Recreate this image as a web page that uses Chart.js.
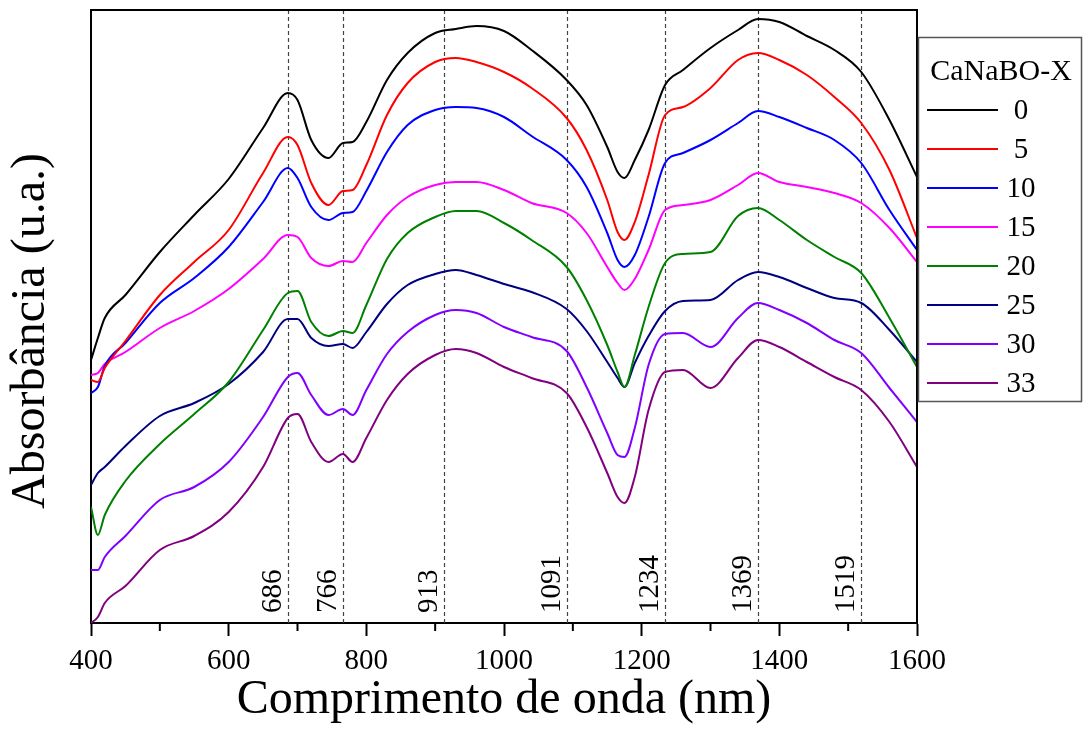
<!DOCTYPE html>
<html><head><meta charset="utf-8">
<script src="https://cdn.jsdelivr.net/npm/chart.js@4.4.1/dist/chart.umd.min.js"></script>
<style>html,body{margin:0;padding:0;background:#fff;}</style>
</head><body>
<canvas id="c" width="1088" height="729"></canvas>
<script>
// ---- data (absorbance, arbitrary units) ----
const wavelengths = [400,410,420,450,500,550,600,650,686,700,720,745,766,780,800,830,860,900,930,960,1000,1040,1091,1120,1150,1165,1175,1190,1210,1234,1260,1300,1340,1369,1400,1440,1480,1519,1560,1600];
const seriesLabels = ['0','5','10','15','20','25','30','33'];
const abs0  = [263,285,305,328,371,408,444,495,530,523,483,465,480,481,501,543,570,590,594,597,592,573,543,518,476,451,445,463,493,538,553,575,593,604,601,587,573,551,503,446];
const abs5  = [243,241,255,282,328,361,393,450,486,478,440,418,432,433,458,508,540,561,565,561,551,535,505,473,423,391,383,401,448,508,516,535,563,570,563,548,526,500,453,385];
const abs10 = [230,236,257,280,320,345,376,421,455,445,416,403,410,411,432,471,498,513,516,515,506,487,463,436,390,363,356,368,406,460,470,483,500,512,506,495,483,460,413,373];
const abs15 = [248,250,259,271,295,312,334,364,388,386,365,357,362,361,380,408,426,438,441,441,433,420,410,390,356,340,333,344,373,413,418,423,438,450,441,436,430,420,395,361];
const abs20 = [116,88,108,142,179,209,241,293,330,332,301,287,292,290,318,364,390,406,412,412,400,383,356,323,278,251,236,268,316,360,369,371,407,415,403,383,366,350,305,256];
const abs25 = [138,150,156,177,207,220,239,271,304,304,285,277,279,275,291,319,338,349,353,348,339,331,314,292,261,245,236,260,287,312,322,323,343,351,346,335,325,320,293,261];
const abs30 = [53,53,66,87,123,136,161,206,246,250,228,208,214,208,233,269,291,308,313,310,296,286,272,236,190,168,166,195,258,289,290,276,305,320,313,300,283,270,235,201];
const abs33 = [0,6,20,37,73,87,111,156,205,209,181,161,169,161,185,223,249,268,274,270,256,245,230,196,150,126,120,146,213,251,253,235,265,283,276,261,246,233,201,156];
const peakLines = [686,766,913,1091,1234,1369,1519];
const legendTitle = 'CaNaBO-X';
const xTitle = 'Comprimento de onda (nm)';
const yTitle = 'Absorbância (u.a.)';

const allSeries = [abs0,abs5,abs10,abs15,abs20,abs25,abs30,abs33];
const colors = ['#000000','#FF0000','#0000FF','#FF00FF','#008000','#000080','#8000FF','#800080'];
const FONT = "'Liberation Serif', 'Times New Roman', serif";

const datasets = allSeries.map((s,i)=>({
  label: seriesLabels[i],
  data: s.map((v,j)=>({x: wavelengths[j], y: v})),
  borderColor: colors[i],
  borderWidth: 2,
  pointRadius: 0,
  fill: false,
  tension: 0.4,
  cubicInterpolationMode: 'monotone'
}));

const decor = {
  id: 'decor',
  beforeDatasetsDraw(chart){
    const {ctx, chartArea:a, scales:{x}} = chart;
    ctx.save();
    ctx.strokeStyle = '#444';
    ctx.lineWidth = 1.2;
    ctx.setLineDash([4,3]);
    peakLines.forEach(p=>{
      const px = Math.round(x.getPixelForValue(p)) + 0.5;
      ctx.beginPath(); ctx.moveTo(px, a.top); ctx.lineTo(px, a.bottom); ctx.stroke();
    });
    ctx.setLineDash([]);
    ctx.fillStyle = '#000';
    ctx.font = "29px " + FONT;
    ctx.textAlign = 'left';
    ctx.textBaseline = 'alphabetic';
    peakLines.forEach(p=>{
      const px = x.getPixelForValue(p);
      ctx.save();
      ctx.translate(px - 7, a.bottom - 10);
      ctx.rotate(-Math.PI/2);
      ctx.fillText(String(p), 0, 0);
      ctx.restore();
    });
    ctx.restore();
  },
  afterDraw(chart){
    const {ctx, chartArea:a, scales:{x}} = chart;
    ctx.save();
    // frame top & right
    ctx.strokeStyle = '#000';
    ctx.lineWidth = 2;
    ctx.beginPath();
    ctx.moveTo(a.left, a.top); ctx.lineTo(a.right, a.top); ctx.lineTo(a.right, a.bottom);
    ctx.stroke();
    // minor ticks
    for (let v = x.min + 100; v < x.max; v += 200) {
      const px = x.getPixelForValue(v);
      ctx.beginPath(); ctx.moveTo(px, a.bottom); ctx.lineTo(px, a.bottom + 8); ctx.stroke();
    }
    // y title
    ctx.fillStyle = '#000';
    ctx.font = "48px " + FONT;
    ctx.textAlign = 'center';
    ctx.textBaseline = 'middle';
    ctx.save();
    ctx.translate(31, 331);
    ctx.rotate(-Math.PI/2);
    ctx.fillText(yTitle, 0, 0);
    ctx.restore();
    // legend
    const lx = 918, ly = 37, lw = 163, lh = 364;
    ctx.fillStyle = '#fff';
    ctx.fillRect(lx, ly, lw, lh);
    ctx.strokeStyle = '#555';
    ctx.lineWidth = 1.5;
    ctx.strokeRect(lx + 0.5, ly + 0.5, lw, lh);
    ctx.fillStyle = '#000';
    ctx.font = "30px " + FONT;
    ctx.textAlign = 'center';
    ctx.fillText(legendTitle, 1001, 72);
    ctx.font = "29px " + FONT;
    chart.data.datasets.forEach((d,i)=>{
      const y = 110 + i*39;
      ctx.strokeStyle = d.borderColor;
      ctx.lineWidth = 2;
      ctx.beginPath(); ctx.moveTo(927, y); ctx.lineTo(998, y); ctx.stroke();
      ctx.fillStyle = '#000';
      ctx.fillText(d.label, 1021, y + 1);
    });
    ctx.restore();
  }
};

new Chart(document.getElementById('c'), {
  type: 'line',
  data: { datasets },
  options: {
    responsive: false,
    animation: false,
    devicePixelRatio: 1,
    layout: { padding: { left: 0, right: 171, top: 10, bottom: 0 } },
    plugins: { legend: { display: false }, tooltip: { enabled: false } },
    scales: {
      x: {
        type: 'linear',
        min: 400, max: 1600,
        afterFit(s){ s.height = 106; },
        ticks: {
          stepSize: 100,
          autoSkip: false,
          maxRotation: 0,
          padding: 8,
          color: '#000',
          font: { family: FONT, size: 29 },
          callback: v => (v % 200 === 0 ? String(v) : '')
        },
        grid: {
          drawOnChartArea: false,
          drawTicks: true,
          tickLength: 13,
          tickWidth: 2,
          tickColor: c => (c.tick && c.tick.value % 200 === 0 ? '#000' : 'rgba(0,0,0,0)')
        },
        border: { display: true, color: '#000', width: 2 },
        title: {
          display: true,
          text: xTitle,
          color: '#000',
          font: { family: FONT, size: 48, lineHeight: 1.2 },
          padding: 0
        }
      },
      y: {
        type: 'linear',
        min: 0, max: 613,
        afterFit(s){ s.width = 91; },
        ticks: { display: false },
        grid: { display: false },
        border: { display: true, color: '#000', width: 2 }
      }
    }
  },
  plugins: [decor]
});
</script>
</body></html>
